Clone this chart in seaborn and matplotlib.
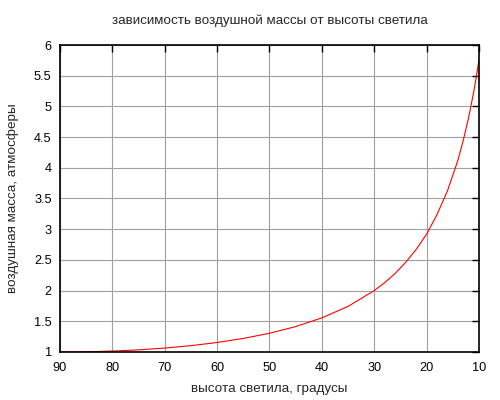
import matplotlib
matplotlib.use("Agg")
import matplotlib.pyplot as plt
import seaborn as sns
import pandas as pd

# высота светила (градусы) и воздушная масса
vysota = [90, 85, 80, 75, 70, 65, 60, 55, 50, 45, 40, 35, 30, 28, 26, 24, 22,
          20, 18, 16, 14, 13, 12, 11, 10.5, 10]
massa = [1.0, 1.004, 1.015, 1.035, 1.064, 1.103, 1.155, 1.221, 1.305, 1.414,
         1.556, 1.743, 2.0, 2.13, 2.28, 2.46, 2.67, 2.92, 3.24, 3.63, 4.13,
         4.45, 4.81, 5.24, 5.49, 5.76]

x_ticks = [90, 80, 70, 60, 50, 40, 30, 20, 10]
y_ticks = [1, 1.5, 2, 2.5, 3, 3.5, 4, 4.5, 5, 5.5, 6]

df = pd.DataFrame({"h": vysota, "m": massa})

sns.set_style("white")
plt.rcParams["font.family"] = ["Liberation Sans", "DejaVu Sans"]

fig = plt.figure(figsize=(5, 4), dpi=100)
ax = fig.add_axes([0.12, 0.12, 0.838, 0.7675])

sns.lineplot(data=df, x="h", y="m", color="#ff0000", linewidth=0.8, ax=ax)

ax.set_xlim(90, 10)
ax.set_ylim(1, 6)
ax.set_xticks(x_ticks)
ax.set_yticks(y_ticks)
ax.set_yticklabels(["1", "1.5", "2", "2.5", "3", "3.5", "4", "4.5", "5", "5.5", "6"])
ax.grid(True, color="#a0a0a0", linewidth=0.8)
ax.set_axisbelow(True)
ax.tick_params(direction="in", length=5, width=1, colors="black",
               labelsize=9.2, top=True, right=True, pad=6)
ax.tick_params(axis="x", pad=7)
for s in ax.spines.values():
    s.set_color("black")
    s.set_linewidth(1.2)
    s.set_visible(True)

ax.set_title("зависимость воздушной массы от высоты светила", fontsize=9.7, pad=15)
ax.set_xlabel("высота светила, градусы", fontsize=9.7, labelpad=7)
ax.set_ylabel("воздушная масса, атмосферы", fontsize=9.7, labelpad=11)

fig.savefig("out.png", dpi=100)
